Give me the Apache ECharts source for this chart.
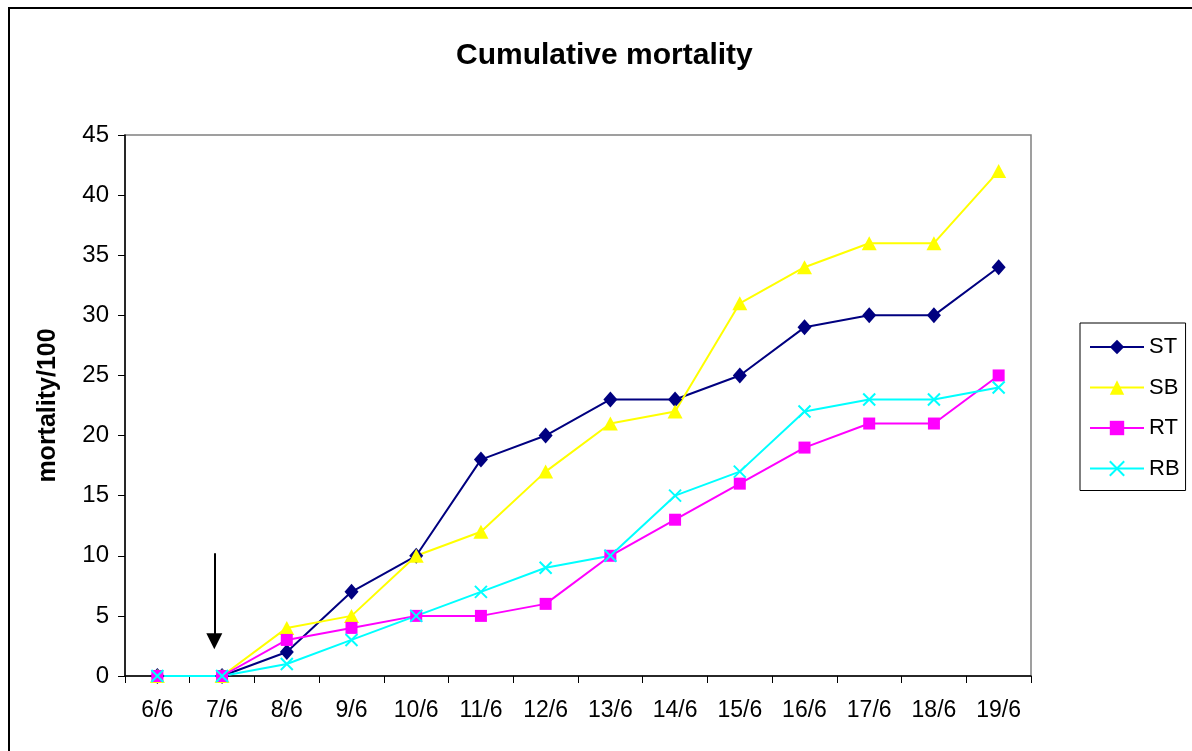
<!DOCTYPE html>
<html>
<head>
<meta charset="utf-8">
<script src="https://cdn.jsdelivr.net/npm/echarts@6/dist/echarts.min.js"></script>
<style>html,body{margin:0;padding:0;background:#fff;}#c{width:1192px;height:751px;}</style>
</head>
<body>
<div id="c"></div>
<script>
var categories = ['6/6','7/6','8/6','9/6','10/6','11/6','12/6','13/6','14/6','15/6','16/6','17/6','18/6','19/6'];
var ST = [0,0,2,7,10,18,20,23,23,25,29,30,30,34];
var SB = [0,0,4,5,10,12,17,21,22,31,34,36,36,42];
var RT = [0,0,3,4,5,5,6,10,13,16,19,21,21,25];
var RB = [0,0,1,3,5,7,9,10,15,17,22,23,23,24];
// arrow annotation (category position, value)
var arrowFrom = [0.88, 10.2];
var arrowTo = [0.88, 2.9];

var FONT = '"Liberation Sans", Arial, sans-serif';
var crossPath = 'path://M0,0L10,10M10,0L0,10';

var chart = echarts.init(document.getElementById('c'), null, {renderer:'canvas'});
function mk(name, data, color, symbol, size, extra) {
  var s = {
    name: name, type: 'line', data: data,
    symbol: symbol, symbolSize: size,
    lineStyle: {color: color, width: 2},
    itemStyle: {color: color},
    emphasis: {disabled: true},
    z: 2
  };
  if (extra) for (var k in extra) s[k] = extra[k];
  return s;
}
chart.setOption({
  animation: false,
  backgroundColor: '#fff',
  title: {
    text: 'Cumulative mortality', left: 451, top: 36,
    textStyle: {fontFamily: FONT, fontSize: 30, fontWeight: 'bold', color: '#000'}
  },
  graphic: [{
    type: 'rect', shape: {x: 9, y: 8, width: 1300, height: 900},
    style: {fill: 'none', stroke: '#000', lineWidth: 2}, silent: true
  }],
  legend: {
    orient: 'vertical',
    left: 1080, top: 323,
    data: ['ST','SB','RT','RB'],
    itemWidth: 54, itemHeight: 18, itemGap: 16.5,
    padding: [12, 6, 10, 9],
    borderColor: '#000', borderWidth: 1,
    textStyle: {fontFamily: FONT, fontSize: 22, lineHeight: 24, color: '#000'}
  },
  grid: {left: 125, right: 161, top: 135, bottom: 75, show: true, borderColor: '#808080', borderWidth: 1.5},
  xAxis: [{
    type: 'category', data: categories, boundaryGap: true,
    axisLine: {lineStyle: {color: '#000', width: 1.5}},
    axisTick: {show: true, inside: false, length: 7, lineStyle: {color: '#000'}},
    axisLabel: {fontFamily: FONT, fontSize: 23, color: '#000', margin: 23},
    splitLine: {show: false}
  }, {
    type: 'value', min: -0.5, max: 13.5, show: false, position: 'bottom',
    axisLine: {onZero: false}, splitLine: {show: false}
  }],
  yAxis: {
    type: 'value', min: 0, max: 45, interval: 5,
    name: 'mortality/100', nameLocation: 'middle', nameGap: 64,
    nameTextStyle: {fontFamily: FONT, fontSize: 25, fontWeight: 'bold', color: '#000'},
    axisLine: {show: true, onZero: false, lineStyle: {color: '#000', width: 1.5}},
    axisTick: {show: true, length: 7, lineStyle: {color: '#000'}},
    axisLabel: {fontFamily: FONT, fontSize: 24, color: '#000', margin: 16},
    splitLine: {show: false}
  },
  series: [
    mk('ST', ST, '#000080', 'diamond', [14,16]),
    mk('SB', SB, '#FFFF00', 'triangle', [15,14]),
    mk('RT', RT, '#FF00FF', 'rect', 12),
    mk('RB', RB, '#00FFFF', crossPath, 12, {itemStyle: {color: '#00FFFF', borderColor: '#00FFFF', borderWidth: 2}}),
    {
      name: 'arrow', type: 'lines', coordinateSystem: 'cartesian2d',
      xAxisIndex: 1, yAxisIndex: 0, silent: true,
      symbol: ['none', 'triangle'], symbolSize: [16, 16],
      lineStyle: {color: '#000', width: 2, opacity: 1},
      data: [{coords: [arrowFrom, arrowTo]}],
      z: 3
    }
  ]
});
</script>
</body>
</html>
